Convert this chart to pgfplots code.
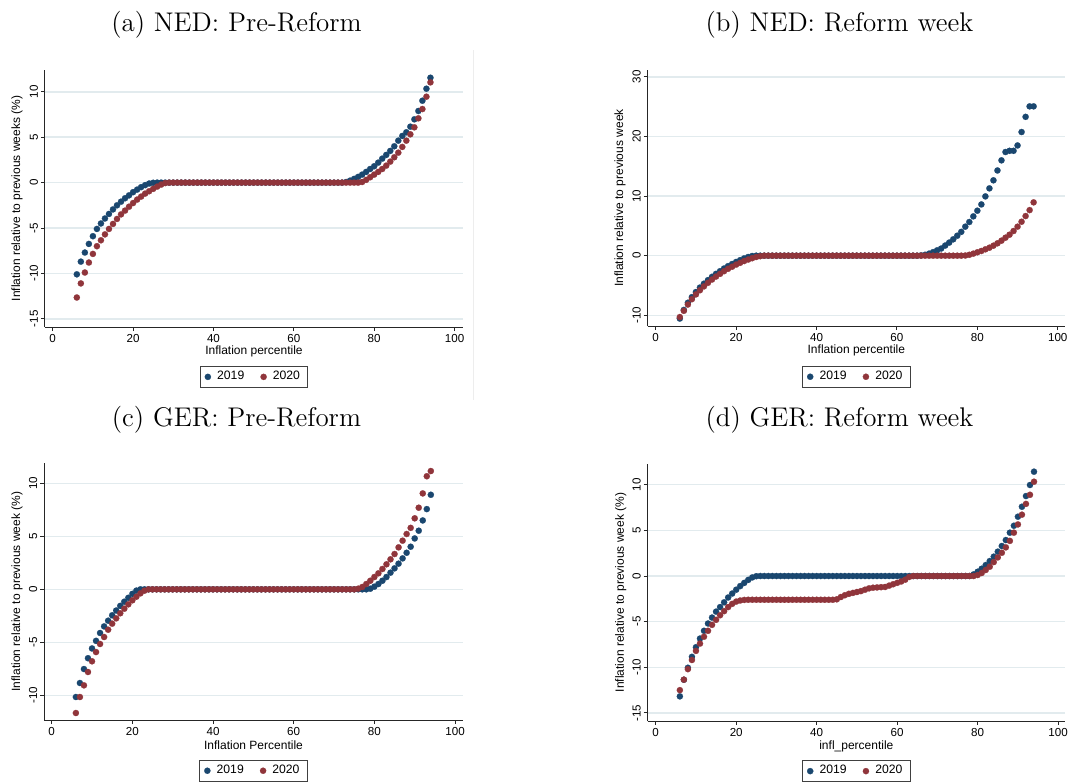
\documentclass[border=0pt]{standalone}
\usepackage{fontspec}
\usepackage{pgfplots}
\usepackage{pgfplotstable}
\pgfplotsset{compat=1.18}
\newfontfamily\arial{Liberation Sans}
\definecolor{stnavy}{RGB}{26,71,111}
\definecolor{stmaroon}{RGB}{144,53,59}
\definecolor{stgrid}{RGB}{226,235,238}

\pgfplotstableread{
p y19 y20
6 -10.1 -12.65
7 -8.7 -11.1
8 -7.7 -9.9
9 -6.75 -8.8
10 -5.9 -7.85
11 -5.1 -7.0
12 -4.5 -6.35
13 -3.95 -5.7
14 -3.45 -5.1
15 -2.95 -4.55
16 -2.5 -4.0
17 -2.1 -3.5
18 -1.72 -3.08
19 -1.4 -2.65
20 -1.05 -2.25
21 -0.77 -1.87
22 -0.5 -1.54
23 -0.28 -1.21
24 -0.1 -0.95
25 -0.02 -0.69
26 0 -0.44
27 0 -0.22
28 0 -0.05
29 0 0
30 0 0
31 0 0
32 0 0
33 0 0
34 0 0
35 0 0
36 0 0
37 0 0
38 0 0
39 0 0
40 0 0
41 0 0
42 0 0
43 0 0
44 0 0
45 0 0
46 0 0
47 0 0
48 0 0
49 0 0
50 0 0
51 0 0
52 0 0
53 0 0
54 0 0
55 0 0
56 0 0
57 0 0
58 0 0
59 0 0
60 0 0
61 0 0
62 0 0
63 0 0
64 0 0
65 0 0
66 0 0
67 0 0
68 0 0
69 0 0
70 0 0
71 0 0
72 0 0
73 0.07 0
74 0.22 0
75 0.41 0
76 0.63 0
77 0.88 0.07
78 1.18 0.3
79 1.5 0.59
80 1.8 0.88
81 2.2 1.18
82 2.64 1.5
83 3.05 1.87
84 3.49 2.31
85 4.0 2.79
86 4.62 3.3
87 5.14 3.93
88 5.54 4.62
89 6.16 5.32
90 6.97 6.09
91 7.89 7.08
92 9.02 8.1
93 10.34 9.46
94 11.55 11.04
}\tabA

\pgfplotstableread{
p y19 y20
6 -10.55 -10.3
7 -9.1 -9.25
8 -7.9 -8.2
9 -6.95 -7.3
10 -6.1 -6.5
11 -5.35 -5.8
12 -4.7 -5.15
13 -4.1 -4.55
14 -3.55 -4.0
15 -3.05 -3.5
16 -2.6 -3.05
17 -2.15 -2.6
18 -1.75 -2.2
19 -1.4 -1.85
20 -1.05 -1.5
21 -0.75 -1.2
22 -0.45 -0.9
23 -0.22 -0.65
24 -0.05 -0.42
25 0 -0.22
26 0 -0.08
27 0 0
28 0 0
29 0 0
30 0 0
31 0 0
32 0 0
33 0 0
34 0 0
35 0 0
36 0 0
37 0 0
38 0 0
39 0 0
40 0 0
41 0 0
42 0 0
43 0 0
44 0 0
45 0 0
46 0 0
47 0 0
48 0 0
49 0 0
50 0 0
51 0 0
52 0 0
53 0 0
54 0 0
55 0 0
56 0 0
57 0 0
58 0 0
59 0 0
60 0 0
61 0 0
62 0 0
63 0 0
64 0 0
65 0 0
66 0.05 0
67 0.15 0
68 0.35 0
69 0.6 0
70 0.9 0
71 1.2 0
72 1.7 0
73 2.2 0
74 2.75 0
75 3.35 0
76 4.0 0
77 4.87 0.03
78 5.65 0.15
79 6.6 0.34
80 7.55 0.57
81 8.6 0.79
82 9.95 1.07
83 11.3 1.34
84 12.65 1.68
85 14.3 2.08
86 16.0 2.52
87 17.4 3.02
88 17.6 3.52
89 17.6 4.14
90 18.5 4.87
91 20.75 5.7
92 23.3 6.65
93 25.06 7.65
94 25.06 8.95
}\tabB

\pgfplotstableread{
p y19 y20
6 -10.16 -11.67
7 -8.84 -10.16
8 -7.52 -9.06
9 -6.5 -7.8
10 -5.58 -6.79
11 -4.86 -5.92
12 -4.12 -5.16
13 -3.5 -4.5
14 -2.96 -3.81
15 -2.45 -3.24
16 -2.0 -2.74
17 -1.56 -2.26
18 -1.17 -1.83
19 -0.8 -1.42
20 -0.43 -1.04
21 -0.12 -0.7
22 0 -0.38
23 0 -0.13
24 0 0
25 0 0
26 0 0
27 0 0
28 0 0
29 0 0
30 0 0
31 0 0
32 0 0
33 0 0
34 0 0
35 0 0
36 0 0
37 0 0
38 0 0
39 0 0
40 0 0
41 0 0
42 0 0
43 0 0
44 0 0
45 0 0
46 0 0
47 0 0
48 0 0
49 0 0
50 0 0
51 0 0
52 0 0
53 0 0
54 0 0
55 0 0
56 0 0
57 0 0
58 0 0
59 0 0
60 0 0
61 0 0
62 0 0
63 0 0
64 0 0
65 0 0
66 0 0
67 0 0
68 0 0
69 0 0
70 0 0
71 0 0
72 0 0
73 0 0
74 0 0
75 0 0
76 0 0.06
77 0 0.22
78 0 0.5
79 0.06 0.81
80 0.25 1.16
81 0.5 1.51
82 0.81 1.92
83 1.16 2.36
84 1.57 2.83
85 1.98 3.33
86 2.42 3.96
87 2.92 4.59
88 3.45 5.22
89 4.02 5.8
90 4.8 6.7
91 5.53 7.7
92 6.5 9.05
93 7.57 10.67
94 8.92 11.16
}\tabC

\pgfplotstableread{
p y19 y20
6 -13.18 -12.5
7 -11.36 -11.35
8 -10.05 -10.2
9 -8.85 -9.2
10 -7.8 -8.2
11 -6.85 -7.4
12 -6.0 -6.65
13 -5.2 -6.0
14 -4.55 -5.35
15 -3.9 -4.8
16 -3.4 -4.3
17 -2.88 -3.85
18 -2.35 -3.4
19 -1.92 -3.05
20 -1.5 -2.8
21 -1.1 -2.68
22 -0.75 -2.62
23 -0.42 -2.6
24 -0.15 -2.6
25 -0.02 -2.6
26 0 -2.6
27 0 -2.6
28 0 -2.6
29 0 -2.6
30 0 -2.6
31 0 -2.6
32 0 -2.6
33 0 -2.6
34 0 -2.6
35 0 -2.6
36 0 -2.6
37 0 -2.6
38 0 -2.6
39 0 -2.6
40 0 -2.6
41 0 -2.6
42 0 -2.6
43 0 -2.6
44 0 -2.6
45 0 -2.55
46 0 -2.3
47 0 -2.1
48 0 -1.95
49 0 -1.85
50 0 -1.75
51 0 -1.65
52 0 -1.5
53 0 -1.35
54 0 -1.28
55 0 -1.25
56 0 -1.22
57 0 -1.2
58 0 -1.05
59 0 -0.9
60 0 -0.75
61 0 -0.6
62 0 -0.4
63 0 -0.1
64 0 0
65 0 0
66 0 0
67 0 0
68 0 0
69 0 0
70 0 0
71 0 0
72 0 0
73 0 0
74 0 0
75 0 0
76 0 0
77 0 0
78 0 0
79 0.18 0
80 0.47 0.11
81 0.8 0.33
82 1.2 0.66
83 1.64 1.02
84 2.12 1.53
85 2.67 2.04
86 3.29 2.55
87 3.94 3.14
88 4.75 3.85
89 5.51 4.75
90 6.5 5.65
91 7.59 6.72
92 8.76 7.9
93 9.97 8.9
94 11.43 10.33
}\tabD

\pgfplotsset{
  stata/.style={
    scale only axis,
    anchor=south west,
    axis x line*=bottom,
    axis y line*=left,
    axis line style={black!85, line width=0.5pt},
    xtick={0,20,...,100},
    ymajorgrids,
    major grid style={stgrid, line width=0.75pt},
    tick align=outside,
    major tick length=2pt,
    minor tick num=0,
    tick style={black!85, line width=0.5pt},
    /pgf/number format/assume math mode=true,
    tick label style={font=\arial\fontsize{5.8}{6.5}\selectfont},
    yticklabel style={rotate=90, anchor=south, inner sep=1.3pt},
    xticklabel style={inner sep=1.3pt},
    label style={font=\arial\fontsize{6}{7}\selectfont},
    legend columns=2,
    legend cell align=left,
    legend style={draw=black!75, line width=0.45pt,
      font=\arial\fontsize{6.1}{7}\selectfont,
      anchor=north, inner xsep=2.2pt, inner ysep=1.1pt,
      nodes={inner xsep=1.6pt, inner ysep=1.2pt},
      /tikz/every odd column/.append style={column sep=1.5pt},
      /tikz/every even column/.append style={column sep=6.5pt}},
  },
  s19/.style={only marks, mark=*, mark size=1.55pt, color=stnavy,
    mark options={fill=stnavy, draw=stnavy, line width=0.1pt}},
  s20/.style={only marks, mark=*, mark size=1.55pt, color=stmaroon,
    mark options={fill=stmaroon, draw=stmaroon, line width=0.1pt}},
}

\begin{document}
\begin{tikzpicture}
\path[use as bounding box] (0,0) rectangle (536.5pt,-391.5pt);
\draw[black!7, line width=0.5pt] (236.5pt,-25pt) -- (236.5pt,-200pt);

\node[font=\fontsize{13.5}{15}\selectfont] at (118.25pt,-12.5pt) {(a) NED: Pre-Reform};
\node[font=\fontsize{13.5}{15}\selectfont] at (419.75pt,-12.5pt) {(b) NED: Reform week};
\node[font=\fontsize{13.5}{15}\selectfont] at (118.25pt,-210pt) {(c) GER: Pre-Reform};
\node[font=\fontsize{13.5}{15}\selectfont] at (419.75pt,-210pt) {(d) GER: Reform week};

% (a)
\begin{axis}[stata, at={(22.5pt,-163.5pt)}, width=209pt, height=128.5pt,
  xmin=-1.92, xmax=102.1, ymin=-15.9, ymax=12.4,
  ytick={-15,-10,-5,0,5,10},
  xlabel={Inflation percentile},
  ylabel={Inflation relative to previous weeks (\%)},
  xlabel style={at={(axis description cs:0.5,-0.096)}, anchor=center},
  ylabel style={at={(axis description cs:-0.067,0.5)}, anchor=center},
  legend style={at={(axis description cs:0.5,-0.152)}}]
\addplot[s19] table[x=p, y=y19] {\tabA};
\addplot[s20] table[x=p, y=y20] {\tabA};
\legend{2019,2020}
\end{axis}

% (b)
\begin{axis}[stata, at={(323.85pt,-163pt)}, width=208.65pt, height=128pt,
  xmin=-1.99, xmax=101.8, ymin=-11.8, ymax=31.16,
  ytick={-10,0,10,20,30},
  xlabel={Inflation percentile},
  ylabel={Inflation relative to previous week},
  xlabel style={at={(axis description cs:0.5,-0.0965)}, anchor=center},
  ylabel style={at={(axis description cs:-0.0664,0.5)}, anchor=center},
  legend style={at={(axis description cs:0.5,-0.156)}}]
\addplot[s19] table[x=p, y=y19] {\tabB};
\addplot[s20] table[x=p, y=y20] {\tabB};
\legend{2019,2020}
\end{axis}

% (c)
\begin{axis}[stata, at={(22.15pt,-360pt)}, width=209.2pt, height=128.35pt,
  xmin=-1.83, xmax=101.9, ymin=-12.33, ymax=11.89,
  ytick={-10,-5,0,5,10},
  xlabel={Inflation Percentile},
  ylabel={Inflation relative to previous week (\%)},
  xlabel style={at={(axis description cs:0.5,-0.1)}, anchor=center},
  ylabel style={at={(axis description cs:-0.0652,0.5)}, anchor=center},
  legend style={at={(axis description cs:0.5,-0.1555)}}]
\addplot[s19] table[x=p, y=y19] {\tabC};
\addplot[s20] table[x=p, y=y20] {\tabC};
\legend{2019,2020}
\end{axis}

% (d)
\begin{axis}[stata, at={(323.85pt,-360.5pt)}, width=208.65pt, height=128.5pt,
  xmin=-1.99, xmax=101.7, ymin=-15.88, ymax=12.27,
  ytick={-15,-10,-5,0,5,10},
  xlabel={infl\_percentile},
  ylabel={Inflation relative to previous week (\%)},
  xlabel style={at={(axis description cs:0.5,-0.097)}, anchor=center},
  ylabel style={at={(axis description cs:-0.0647,0.5)}, anchor=center},
  legend style={at={(axis description cs:0.5,-0.153)}}]
\addplot[s19] table[x=p, y=y19] {\tabD};
\addplot[s20] table[x=p, y=y20] {\tabD};
\legend{2019,2020}
\end{axis}
\end{tikzpicture}
\end{document}
